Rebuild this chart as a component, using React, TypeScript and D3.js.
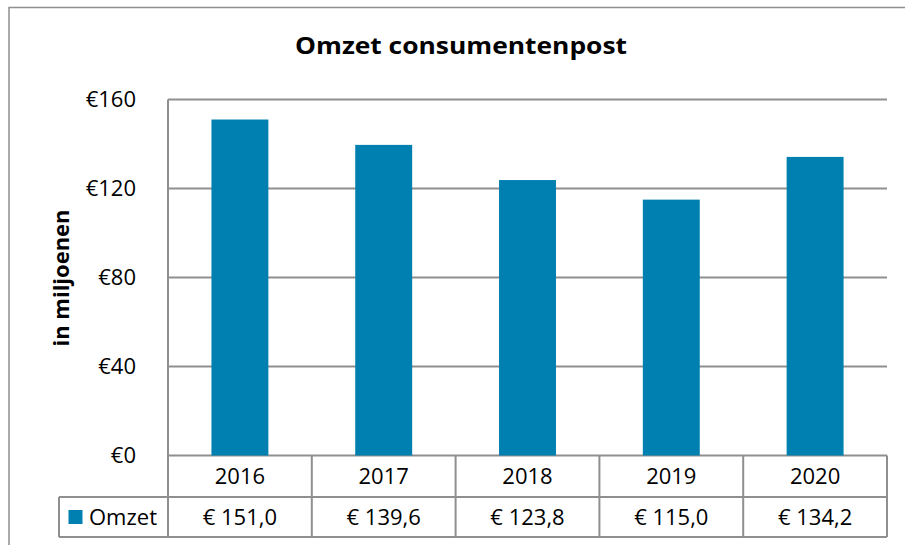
import React from "react";
import * as d3 from "d3";

const years = ["2016", "2017", "2018", "2019", "2020"];
const omzet = [151.0, 139.6, 123.8, 115.0, 134.2];
const yTicks = [0, 40, 80, 120, 160];
const seriesName = "Omzet";
const title = "Omzet consumentenpost";
const yTitle = "in miljoenen";

const W = 905;
const H = 545;
const BAR = "#0080B0";
const GRID = "#8f8f8f";
const FONT = "'Open Sans', 'DejaVu Sans', sans-serif";
const FS = 22;

const tableLoc = d3.formatLocale({ decimal: ",", thousands: ".", grouping: [3], currency: ["€ ", ""] });
const tickLoc = d3.formatLocale({ decimal: ",", thousands: ".", grouping: [3], currency: ["€", ""] });
const fmtVal = tableLoc.format("$.1f");
const fmtTick = tickLoc.format("$.0f");

export default function App() {
  const left = 168;
  const right = 887;
  const top = 99.5;
  const base = 455.5;
  const row1 = 497;
  const row2 = 537;
  const legendLeft = 59;

  const x = d3.scaleBand<string>().domain(years).range([left, right]).paddingInner(0.604).paddingOuter(0.302);
  const cols = d3.scaleBand<string>().domain(years).range([left, right]).padding(0);
  const y = d3.scaleLinear().domain([0, 160]).range([base, top]);

  return (
    <svg width={W} height={H} style={{ position: "absolute", left: 0, top: 0, background: "#fff" }} fontFamily={FONT}>
      <rect x={0} y={0} width={W} height={H} fill="#fff" />
      {/* outer chart frame (cropped on right/bottom) */}
      <path d={`M9,${H + 2} V7.5 H${W + 2}`} fill="none" stroke={GRID} strokeWidth={1.5} />

      <text x={461} y={53.5} textAnchor="middle" fontWeight={700} fontSize={22.5} textLength={332} lengthAdjust="spacingAndGlyphs" fill="#000">
        {title}
      </text>

      {/* gridlines */}
      {yTicks.map((t) => (
        <line key={"g" + t} x1={left} x2={right} y1={y(t)} y2={y(t)} stroke={GRID} strokeWidth={2} />
      ))}
      {/* y tick labels */}
      {yTicks.map((t) => (
        <text key={"t" + t} x={136} y={y(t)} dy="0.36em" textAnchor="end" fontSize={FS} fill="#000">
          {fmtTick(t)}
        </text>
      ))}

      <text
        transform={`translate(69,278) rotate(-90)`}
        textAnchor="middle"
        fontWeight={700}
        fontSize={22}
        textLength={137}
        lengthAdjust="spacingAndGlyphs"
        fill="#000"
      >
        {yTitle}
      </text>

      {/* bars */}
      {years.map((yr, i) => (
        <rect key={yr} x={x(yr)} y={y(omzet[i])} width={x.bandwidth()} height={y(0) - y(omzet[i])} fill={BAR} />
      ))}

      {/* data table */}
      <line x1={left} x2={left} y1={top} y2={row2} stroke={GRID} strokeWidth={2} />
      <line x1={legendLeft} x2={right} y1={row1} y2={row1} stroke={GRID} strokeWidth={2} />
      <line x1={legendLeft} x2={right} y1={row2} y2={row2} stroke={GRID} strokeWidth={2} />
      <line x1={legendLeft} x2={legendLeft} y1={row1} y2={row2} stroke={GRID} strokeWidth={2} />
      {years.map((yr) => (
        <line key={"c" + yr} x1={(cols(yr) as number) + cols.bandwidth()} x2={(cols(yr) as number) + cols.bandwidth()} y1={base} y2={row2} stroke={GRID} strokeWidth={2} />
      ))}
      {years.map((yr) => (
        <text key={"y" + yr} x={(cols(yr) as number) + cols.bandwidth() / 2} y={(base + row1) / 2} dy="0.36em" textAnchor="middle" fontSize={FS} fill="#000">
          {yr}
        </text>
      ))}
      {years.map((yr, i) => (
        <text key={"v" + yr} x={(cols(yr) as number) + cols.bandwidth() / 2} y={(row1 + row2) / 2} dy="0.36em" textAnchor="middle" fontSize={FS} fill="#000">
          {fmtVal(omzet[i])}
        </text>
      ))}
      <rect x={68.5} y={510} width={14} height={14} fill={BAR} />
      <text x={89} y={(row1 + row2) / 2} dy="0.36em" fontSize={FS} fill="#000">
        {seriesName}
      </text>
    </svg>
  );
}
